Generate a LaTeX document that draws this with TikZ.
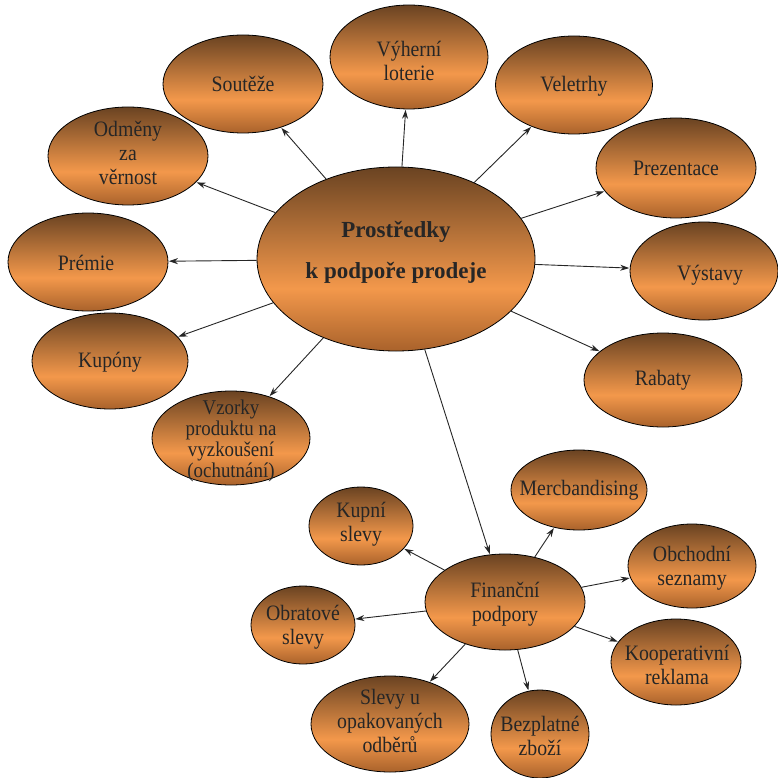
\documentclass[tikz,border=0pt]{standalone}
\usepackage{fontspec}
\setmainfont{Liberation Serif}[FakeStretch=0.9]
\newfontfamily\hubfont{Liberation Serif}
\usetikzlibrary{shapes.geometric,arrows.meta}

\definecolor{btop}{HTML}{6A4322}
\definecolor{bmid}{HTML}{F3984B}
\definecolor{bbot}{HTML}{A9622B}
% dark brown at the top, bright orange below the middle, deeper again at the bottom
\pgfdeclareverticalshading{bubbleshade}{100bp}{color(0bp)=(bbot); color(25bp)=(bbot); color(42bp)=(bmid); color(75bp)=(btop); color(100bp)=(btop)}

\tikzset{
  bubble/.style={ellipse, draw=black, line width=0.8pt, shading=bubbleshade, inner sep=0pt},
  lbl/.style={align=center, inner sep=0pt, font=\fontsize{22}{24}\selectfont, text=black!85},
  link/.style={-{Stealth[length=9pt,width=6pt]}, line width=0.9pt, black!85, shorten >=0.5pt}
}

\begin{document}
\begin{tikzpicture}[x=1pt,y=-1pt]
\useasboundingbox (0,0) rectangle (777,778);

% hub
\node[bubble, minimum width=278, minimum height=184] (hub) at (396,259) {};
\node[align=center, inner sep=0pt, font=\hubfont\fontsize{23}{41}\selectfont\bfseries, text=black!85] (hub-t) at (396,252) {Prostředky\\k podpoře prodeje};

% ring of promotion tools
\node[bubble, minimum width=160, minimum height=98] (soutez) at (243,84) {};
\node[lbl] (soutez-t) at (243,84) {Soutěže};
\node[bubble, minimum width=158, minimum height=104] (loterie) at (409,57) {};
\node[lbl] (loterie-t) at (409,61) {Výherní\\loterie};
\node[bubble, minimum width=157, minimum height=98] (veletrhy) at (574,85) {};
\node[lbl] (veletrhy-t) at (574,86) {Veletrhy};
\node[bubble, minimum width=160, minimum height=100] (prezentace) at (676,168) {};
\node[lbl] (prezentace-t) at (676,168) {Prezentace};
\node[bubble, minimum width=148, minimum height=98] (vystavy) at (704,271) {};
\node[lbl] (vystavy-t) at (710,275) {Výstavy};
\node[bubble, minimum width=158, minimum height=94] (rabaty) at (663,380) {};
\node[lbl] (rabaty-t) at (663,380) {Rabaty};
\node[bubble, minimum width=160, minimum height=98] (odmeny) at (128,156) {};
\node[lbl] (odmeny-t) at (128,153) {Odměny\\za\\věrnost};
\node[bubble, minimum width=160, minimum height=98] (premie) at (88,262) {};
\node[lbl] (premie-t) at (86,263) {Prémie};
\node[bubble, minimum width=156, minimum height=96] (kupony) at (110,361) {};
\node[lbl] (kupony-t) at (110,362) {Kupóny};
\node[bubble, minimum width=158, minimum height=94] (vzorky) at (231,438) {};
\node[lbl, font=\fontsize{21}{21}\selectfont] (vzorky-t) at (231,441) {Vzorky\\produktu na\\vyzkoušení\\(ochutnání)};

% financial support cluster
\node[bubble, minimum width=160, minimum height=96] (fin) at (505,602) {};
\node[lbl] (fin-t) at (505,604) {Finanční\\podpory};
\node[bubble, minimum width=104, minimum height=78] (kupni) at (361,526) {};
\node[lbl] (kupni-t) at (361,524) {Kupní\\slevy};
\node[bubble, minimum width=136, minimum height=80] (merc) at (579,490) {};
\node[lbl] (merc-t) at (579,490) {Mercbandising};
\node[bubble, minimum width=128, minimum height=84] (obchodni) at (692,566) {};
\node[lbl] (obchodni-t) at (692,568) {Obchodní\\seznamy};
\node[bubble, minimum width=104, minimum height=78] (obrat) at (303,625) {};
\node[lbl] (obrat-t) at (303,627) {Obratové\\slevy};
\node[bubble, minimum width=130, minimum height=86] (koop) at (676,662) {};
\node[lbl] (koop-t) at (677,665) {Kooperativní\\reklama};
\node[bubble, minimum width=158, minimum height=96] (opak) at (390,724) {};
\node[lbl] (opak-t) at (390,721) {Slevy u\\opakovaných\\odběrů};
\node[bubble, minimum width=98, minimum height=88] (bezpl) at (540,734) {};
\node[lbl] (bezpl-t) at (540,736) {Bezplatné\\zboží};

% connectors from the hub
\draw[link] (hub) -- (soutez);
\draw[link] (hub) -- (loterie);
\draw[link] (hub) -- (veletrhy);
\draw[link] (hub) -- (prezentace);
\draw[link] (hub) -- (vystavy);
\draw[link] (hub) -- (rabaty);
\draw[link] (hub) -- (odmeny);
\draw[link] (hub) -- (premie);
\draw[link] (hub) -- (kupony);
\draw[link] (hub) -- (vzorky);
\draw[link] (hub) -- (fin);

% connectors from the financial support node
\draw[link] (fin) -- (kupni);
\draw[link] (fin) -- (merc);
\draw[link] (fin) -- (obchodni);
\draw[link] (fin) -- (koop);
\draw[link] (fin) -- (bezpl);
\draw[link] (fin) -- (opak);
\draw[link] (fin) -- (obrat);
\end{tikzpicture}
\end{document}
